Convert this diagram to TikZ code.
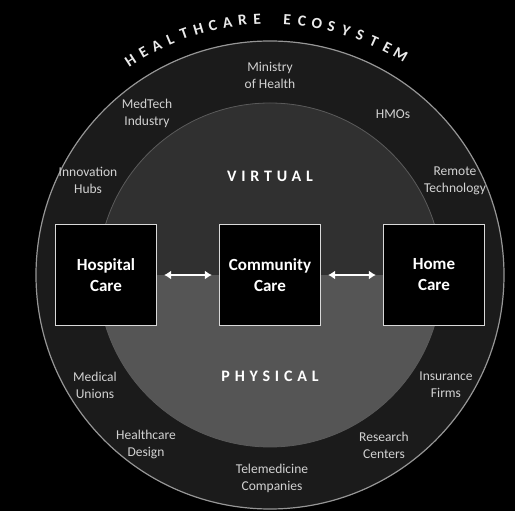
\documentclass[tikz,border=0pt]{standalone}
\usepackage{fontspec}
\setmainfont{Carlito}
\usetikzlibrary{arrows.meta}
\definecolor{ringgray}{RGB}{27,27,27}
\definecolor{virtgray}{RGB}{48,48,48}
\definecolor{physgray}{RGB}{85,85,85}
\definecolor{labelgray}{RGB}{210,210,210}
\definecolor{rimgray}{RGB}{150,150,150}
\tikzset{
  carebox/.style={draw=white!85!black, fill=black, line width=1.2pt, minimum width=101pt, minimum height=101pt, text=white, align=center, font=\fontsize{17}{21}\selectfont\bfseries},
  ringlabel/.style={text=labelgray, align=center, font=\fontsize{13.5}{17}\selectfont},
  halflabel/.style={text=white, font=\fontsize{16}{18}\selectfont\bfseries\addfontfeature{LetterSpace=30}},
  titlechar/.style={text=white!92!black, font=\fontsize{15.5}{15.5}\selectfont\bfseries, inner sep=0pt},
  link/.style={white, line width=1.5pt, <->, >={Latex[length=7pt,width=9pt]}, shorten <=7pt, shorten >=7pt}
}
\begin{document}
\begin{tikzpicture}[x=1pt,y=1pt]
\fill [black] (-270,-236) rectangle (245,275);
\useasboundingbox (-270,-236) rectangle (245,275);
% rings
\draw [rimgray, line width=1.2pt, fill=ringgray] (0,0) circle (234);
\fill [physgray] (0,0) circle (172);
\fill [virtgray] (-172,0) arc (180:0:172) -- cycle;
\draw [gray!70!black, line width=0.8pt] (0,0) circle (172);
% title along the rim
\foreach \ch [count=\i from 0] in {H,E,A,L,T,H,C,A,R,E}
  \node [titlechar, rotate={33-\i*3.35}] (ta\i) at ({123-\i*3.35}:256) {\ch};
\foreach \ch [count=\i from 11] in {E,C,O,S,Y,S,T,E,M}
  \node [titlechar, rotate={33-\i*3.35}] (tb\i) at ({123-\i*3.35}:256) {\ch};
% halves
\node [halflabel] (virtual) at (0,99) {VIRTUAL};
\node [halflabel] (physical) at (0,-101) {PHYSICAL};
% care boxes
\node [carebox] (hospital) at (-164,0) {Hospital\\Care};
\node [carebox] (community) at (0,0) {Community\\Care};
\node [carebox] (home) at (164,0) {Home\\Care};
\draw [link] (hospital) -- (community);
\draw [link] (community) -- (home);
% outer ring labels
\node [ringlabel] (ministry) at (0,200) {Ministry\\of Health};
\node [ringlabel] (medtech) at (-123,162) {MedTech\\Industry};
\node [ringlabel] (hmos) at (123,161) {HMOs};
\node [ringlabel] (innovation) at (-182,95) {Innovation\\Hubs};
\node [ringlabel] (remote) at (185,94) {Remote\\Technology};
\node [ringlabel] (unions) at (-175,-110) {Medical\\Unions};
\node [ringlabel] (insurance) at (176,-110) {Insurance\\Firms};
\node [ringlabel] (design) at (-124,-169) {Healthcare\\Design};
\node [ringlabel] (research) at (114,-170) {Research\\Centers};
\node [ringlabel] (telemedicine) at (2,-203) {Telemedicine\\Companies};
\end{tikzpicture}
\end{document}
